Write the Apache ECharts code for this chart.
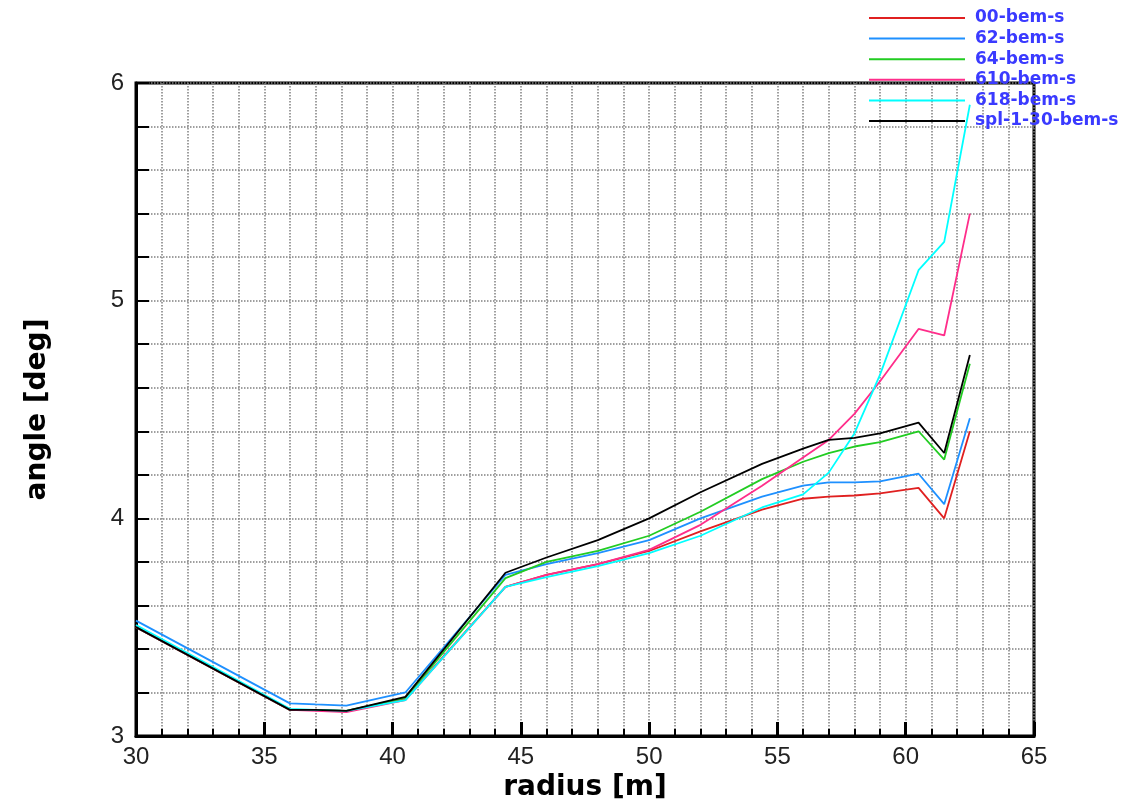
<!DOCTYPE html>
<html>
<head>
<meta charset="utf-8">
<title>angle vs radius</title>
<script src="https://cdn.jsdelivr.net/npm/echarts@6/dist/echarts.min.js"></script>
<style>
  html, body { margin: 0; padding: 0; background: #fff; }
  #chart { width: 1132px; height: 801px; }
</style>
</head>
<body>
<div id="chart"></div>
<script>
// radius stations [m]
var radius = [30, 36, 37, 38.2, 40.5, 44.4, 46, 48, 50, 52, 54.4, 56, 57, 58, 59, 60.5, 61.5, 62.5];

// angle [deg] per case
var bem00  = [3.50, 3.12, 3.12, 3.115, 3.17, 3.685, 3.74, 3.79, 3.85, 3.94, 4.04, 4.09, 4.10, 4.105, 4.115, 4.14, 4.00, 4.40];
var bem62  = [3.53, 3.15, 3.145, 3.14, 3.20, 3.74, 3.79, 3.84, 3.90, 4.00, 4.10, 4.15, 4.165, 4.165, 4.17, 4.205, 4.065, 4.46];
var bem64  = [3.50, 3.12, 3.12, 3.115, 3.175, 3.725, 3.80, 3.85, 3.92, 4.03, 4.18, 4.26, 4.30, 4.33, 4.35, 4.40, 4.27, 4.71];
var bem610 = [3.50, 3.12, 3.115, 3.11, 3.165, 3.685, 3.74, 3.79, 3.855, 3.97, 4.15, 4.28, 4.36, 4.48, 4.63, 4.87, 4.84, 5.40];
var bem618 = [3.51, 3.125, 3.12, 3.115, 3.165, 3.685, 3.73, 3.78, 3.84, 3.92, 4.05, 4.11, 4.21, 4.39, 4.66, 5.14, 5.27, 5.90];
var spl130 = [3.50, 3.12, 3.12, 3.115, 3.18, 3.75, 3.82, 3.90, 4.00, 4.12, 4.25, 4.32, 4.36, 4.37, 4.39, 4.44, 4.30, 4.75];

var names = ["00-bem-s", "62-bem-s", "64-bem-s", "610-bem-s", "618-bem-s", "spl-1-30-bem-s"];
var colors = ["#e02020", "#1e90ff", "#22cc22", "#ff2d8a", "#00ffff", "#000000"];
var values = [bem00, bem62, bem64, bem610, bem618, spl130];

function pairs(ys) {
  return radius.map(function (r, i) { return [r, ys[i]]; });
}

var chart = echarts.init(document.getElementById("chart"));

var gridLine = { show: true, lineStyle: { color: "#808080", type: "dotted", width: 1.5 } };
var titleFont = { fontSize: 28, fontWeight: "bold", color: "#000", fontFamily: "DejaVu Sans" };
var tickFont = { fontSize: 24, color: "#222", fontFamily: "Liberation Sans" };

var option = {
  animation: false,
  grid: {
    left: 136, top: 83, right: 98, bottom: 65,
    outerBoundsMode: "none",
    containLabel: false,
    show: true, borderColor: "#000", borderWidth: 3
  },
  legend: {
    orient: "vertical",
    left: 864, top: 4,
    icon: "rect",
    itemWidth: 96, itemHeight: 2,
    itemGap: 2.6,
    data: names,
    textStyle: {
      color: "#3a3aff", fontWeight: "bold", fontSize: 17, lineHeight: 18,
      fontFamily: "DejaVu Sans",
      padding: [0, 0, 0, 5]
    }
  },
  xAxis: {
    type: "value",
    min: 30, max: 65, interval: 5,
    name: "radius [m]",
    nameLocation: "middle",
    nameGap: 27,
    nameTextStyle: titleFont,
    axisLine: { show: true, onZero: false, lineStyle: { color: "#000", width: 3 } },
    axisTick: { show: true, inside: true, length: 14, lineStyle: { color: "#000", width: 3 } },
    minorTick: { show: true, splitNumber: 5, length: 7, lineStyle: { color: "#000", width: 2 } },
    axisLabel: Object.assign({ margin: 9 }, tickFont),
    splitLine: gridLine,
    minorSplitLine: gridLine
  },
  yAxis: {
    type: "value",
    min: 3, max: 6, interval: 1,
    name: "angle [deg]",
    nameLocation: "middle",
    nameGap: 84,
    nameTextStyle: titleFont,
    axisLine: { show: true, onZero: false, lineStyle: { color: "#000", width: 3 } },
    axisTick: { show: true, inside: true, length: 13, lineStyle: { color: "#000", width: 2 } },
    minorTick: { show: true, splitNumber: 5, length: 13, lineStyle: { color: "#000", width: 2 } },
    axisLabel: Object.assign({ margin: 12 }, tickFont),
    splitLine: gridLine,
    minorSplitLine: gridLine
  },
  series: values.map(function (ys, i) {
    return {
      name: names[i],
      type: "line",
      symbol: "none",
      data: pairs(ys),
      lineStyle: { color: colors[i], width: 1.8 },
      itemStyle: { color: colors[i] }
    };
  })
};

chart.setOption(option);
</script>
</body>
</html>
